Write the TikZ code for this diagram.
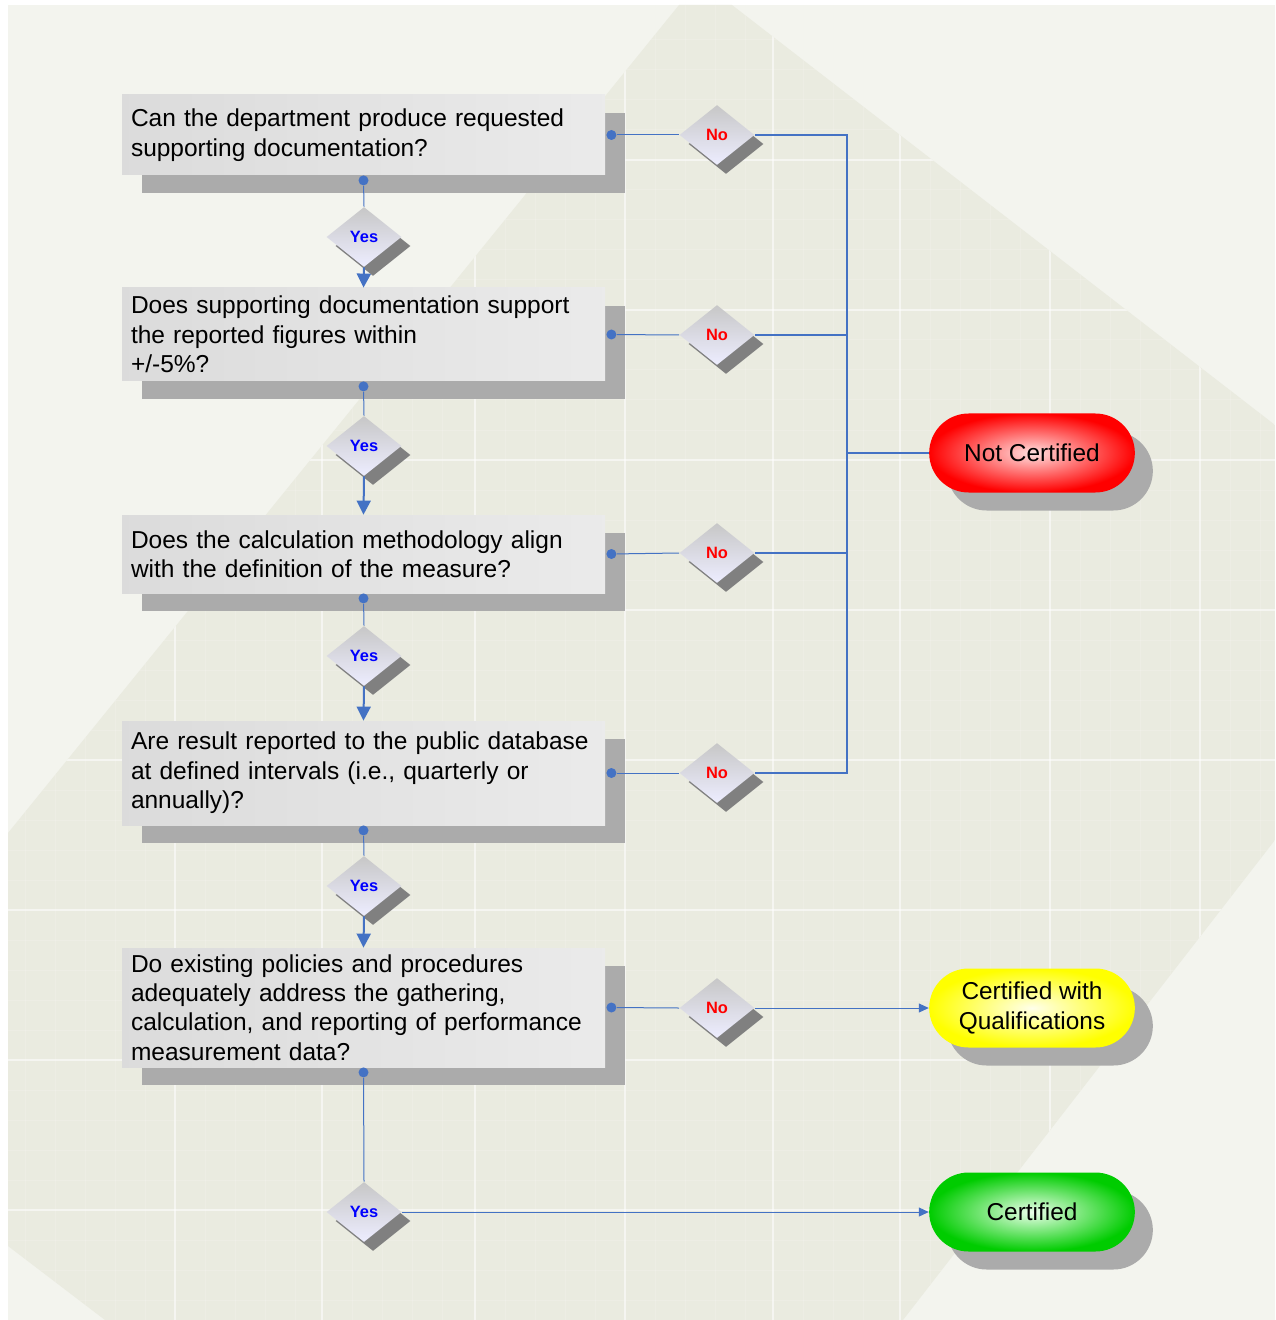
\documentclass[tikz,border=0pt]{standalone}
\usepackage{fontspec}
\setmainfont{Liberation Sans}
\usetikzlibrary{shapes.geometric,shapes.misc,shadows,arrows.meta,positioning}

\definecolor{bglight}{HTML}{F3F4EE}
\definecolor{bgdark}{HTML}{EAEBE0}
\definecolor{flowblue}{HTML}{4472C4}
\definecolor{shadowgray}{HTML}{ABABAB}

\tikzset{
  question/.style={rectangle, left color=black!14, right color=black!8,
    minimum width=241.5pt, text width=232.5pt, inner xsep=4.5pt, inner ysep=0pt,
    align=left, font=\fontsize{12.25}{14.7}\selectfont,
    drop shadow={shadow xshift=10pt, shadow yshift=-9pt, fill=shadowgray, opacity=1}},
  decision/.style={diamond, top color=black!22, bottom color=blue!7!white,
    minimum width=37.5pt, minimum height=30pt, inner sep=0pt,
    font=\fontsize{8.2}{9}\selectfont\bfseries,
    drop shadow={shadow xshift=4.5pt, shadow yshift=-4.5pt, fill=black!50, opacity=1}},
  yesbox/.style={decision, text=blue},
  nobox/.style={decision, text=red},
  result/.style={rounded rectangle, minimum width=109.5pt, minimum height=39.5pt,
    align=center, font=\fontsize{12.2}{14.6}\selectfont,
    drop shadow={shadow xshift=9pt, shadow yshift=-9pt, fill=shadowgray, opacity=1}},
  link/.style={draw=flowblue, line width=0.5pt},
  buslink/.style={draw=flowblue, line width=1pt},
  joint/.style={circle, fill=flowblue, inner sep=0pt, minimum size=5pt},
  tip/.style={-{Triangle[length=7pt,width=7pt]}},
  smalltip/.style={-{Triangle[length=5pt,width=4.5pt]}},
}

\begin{document}
\begin{tikzpicture}[x=0.5pt,y=-0.5pt]
\useasboundingbox (0,0) rectangle (1275,1320);

% background
\fill[bglight] (8,5) rectangle (1275,1320);
\begin{scope}
\clip (679,5) -- (732,5) -- (1275,425) -- (1275,840) -- (903,1320) -- (105,1320) -- (8,1246) -- (8,833) -- cycle;
\fill[bgdark] (0,0) rectangle (1275,1320);
\foreach \gx in {25,55,85,115,145,205,235,265,295,352,382,412,442,505,535,565,595,655,685,715,745,803,833,863,930,960,990,1020,1080,1110,1140,1170,1230,1260}
  \draw[white, opacity=0.15, line width=0.5pt] (\gx,0) -- (\gx,1320);
\foreach \gy in {40,70,100,130,190,220,250,280,340,370,400,430,490,520,550,580,640,670,700,730,790,820,850,880,940,970,1000,1030,1090,1120,1150,1180,1240,1270,1300}
  \draw[white, opacity=0.15, line width=0.5pt] (0,\gy) -- (1275,\gy);
\foreach \gx in {175,322,475,625,773,900,1050,1200}
  \draw[white, opacity=0.55, line width=0.8pt] (\gx,0) -- (\gx,1320);
\foreach \gy in {160,310,460,610,760,910,1060,1210}
  \draw[white, opacity=0.55, line width=0.8pt] (0,\gy) -- (1275,\gy);
\end{scope}

% questions
\node[question, minimum height=40pt] (q1) at (363.5,135)
  {Can the department produce requested\\supporting documentation?};
\node[question, minimum height=46.5pt] (q2) at (363.5,334.5)
  {Does supporting documentation support\\the reported figures within\\+/-5\%?};
\node[question, minimum height=39pt] (q3) at (363.5,554)
  {Does the calculation methodology align\\with the definition of the measure?};
\node[question, minimum height=52pt] (q4) at (363.5,773)
  {Are result reported to the public database\\at defined intervals (i.e., quarterly or\\annually)?};
\node[question, minimum height=59.5pt] (q5) at (363.5,1007.5)
  {Do existing policies and procedures\\adequately address the gathering,\\calculation, and reporting of performance\\measurement data?};

% yes decisions
\node[yesbox] (y1) at (364,237) {Yes};
\node[yesbox] (y2) at (364,446) {Yes};
\node[yesbox] (y3) at (364,656) {Yes};
\node[yesbox] (y4) at (364,886) {Yes};
\node[yesbox] (y5) at (364,1212) {Yes};

% no decisions
\node[nobox] (n1) at (717,135) {No};
\node[nobox] (n2) at (717,335) {No};
\node[nobox] (n3) at (717,553) {No};
\node[nobox] (n4) at (717,773) {No};
\node[nobox] (n5) at (717,1008) {No};

% results
\node[result, shading=radial, inner color=red!12!white, outer color=red] (notcert) at (1032,453) {Not Certified};
\node[result, shading=radial, inner color=yellow!8!white, outer color=yellow] (qual) at (1032,1008) {Certified with\\Qualifications};
\node[result, shading=radial, inner color=green!8!white, outer color=green!80!black] (cert) at (1032,1212) {Certified};

% joints
\foreach \i in {1,...,5}{
  \node[joint] (q\i r) at ([xshift=3pt]q\i.east) {};
  \node[joint] (q\i b) at ([yshift=-2.5pt]q\i.south) {};
}

% yes path
\draw[link] (q1b) -- (y1.north);
\draw[buslink, tip] (y1.south) -- (q2.north);
\draw[link] (q2b) -- (y2.north);
\draw[buslink, tip] (y2.south) -- (q3.north);
\draw[link] (q3b) -- (y3.north);
\draw[buslink, tip] (y3.south) -- (q4.north);
\draw[link] (q4b) -- (y4.north);
\draw[buslink, tip] (y4.south) -- (q5.north);
\draw[link] (q5b) -- (y5.north);
\draw[link, smalltip] (y5.east) -- (cert.west);

% no path
\foreach \i in {1,...,5}
  \draw[link] (q\i r) -- (n\i.west);
\coordinate (bustop) at (847,135);
\coordinate (busbot) at (847,773);
\draw[buslink] (n1.east) -- (bustop) -- (busbot) -- (n4.east);
\draw[buslink] (n2.east) -- (n2.east -| bustop);
\draw[buslink] (n3.east) -- (n3.east -| bustop);
\draw[buslink] (notcert.west -| bustop) -- (notcert.west);
\draw[link, smalltip] (n5.east) -- (qual.west);
\end{tikzpicture}
\end{document}
